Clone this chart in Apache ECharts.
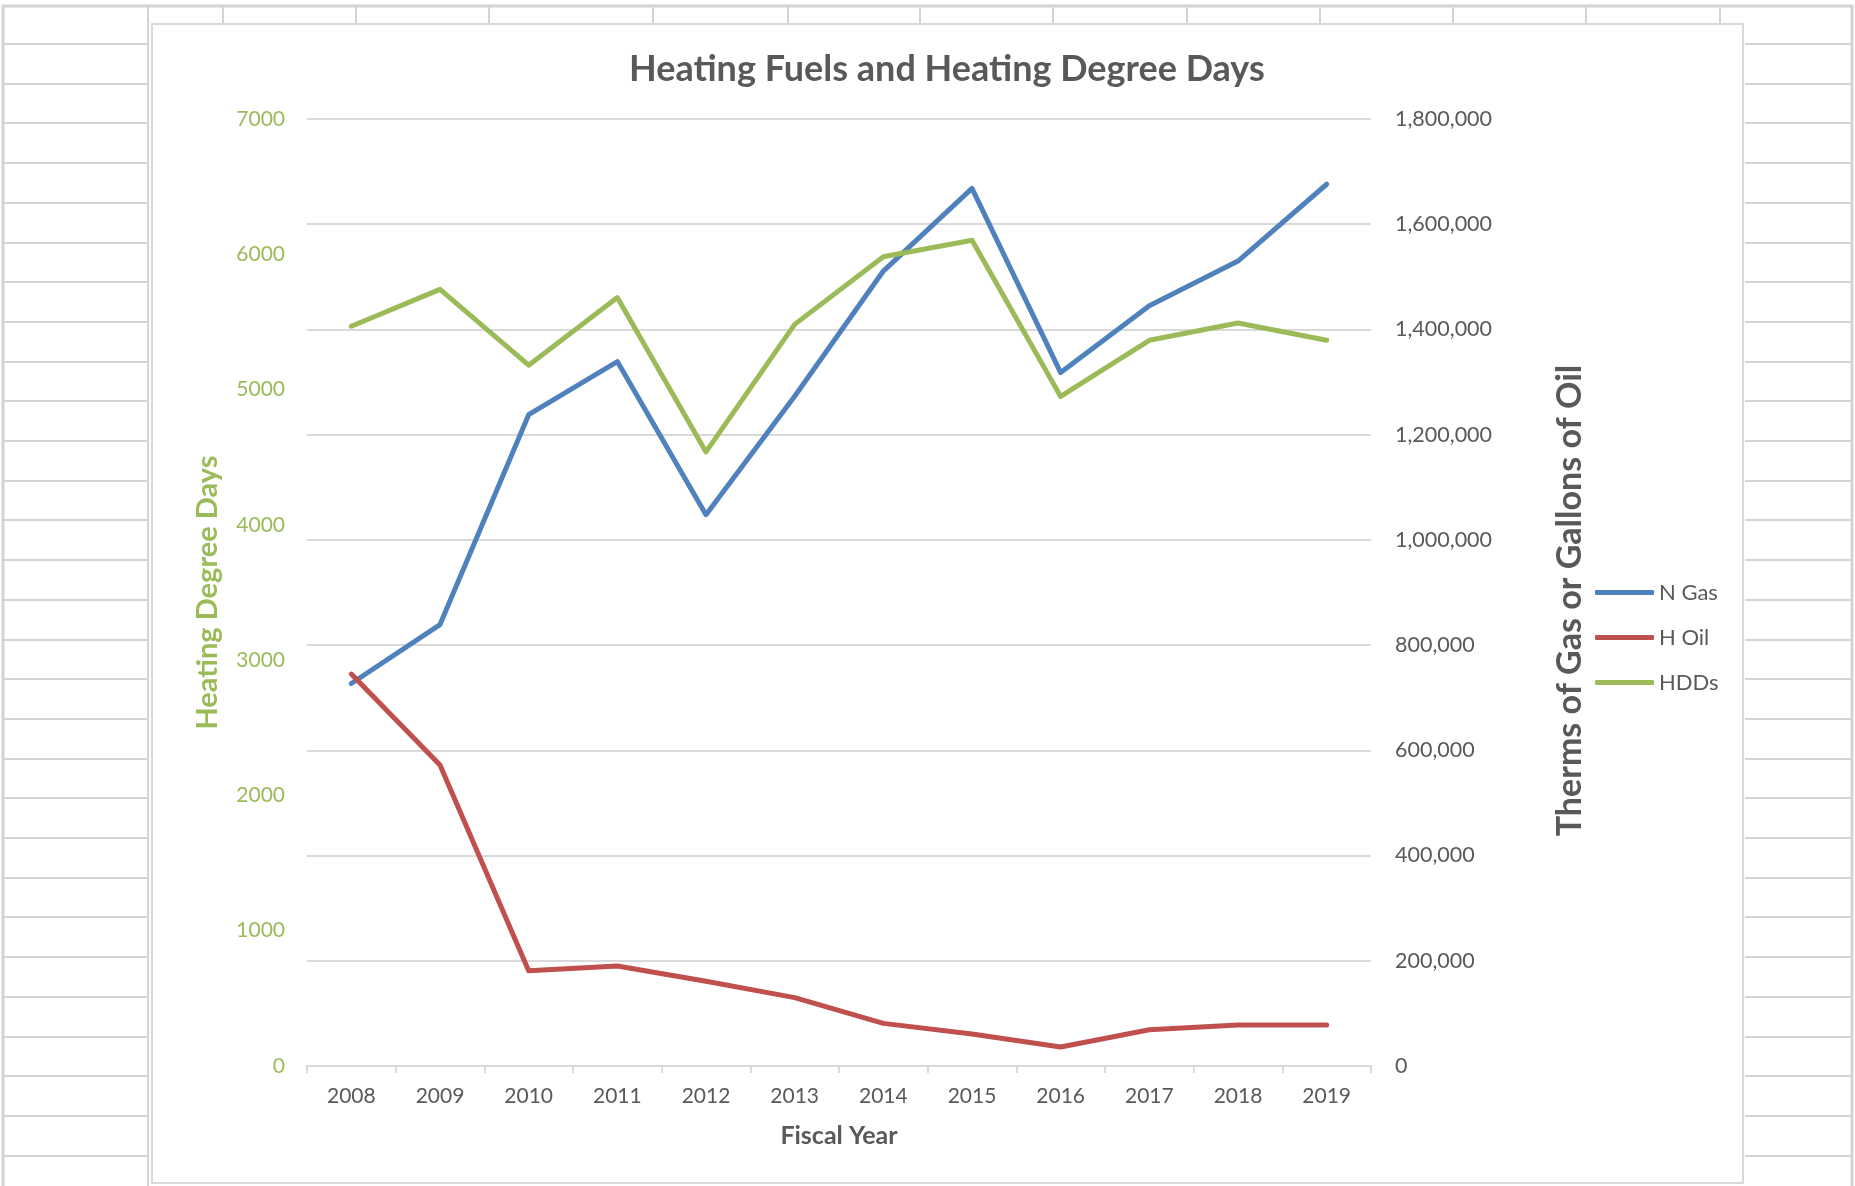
<!DOCTYPE html>
<html>
<head>
<meta charset="utf-8">
<script src="https://cdn.jsdelivr.net/npm/echarts@6/dist/echarts.min.js"></script>
<style>
  html, body { margin: 0; padding: 0; background: #fff; }
  #main { width: 1855px; height: 1186px; }
</style>
</head>
<body>
<div id="main"></div>
<script>
// fiscal years on the x axis
var years = ['2008', '2009', '2010', '2011', '2012', '2013', '2014', '2015', '2016', '2017', '2018', '2019'];
// therms of natural gas (right axis)
var nGas = [727000, 839000, 1238000, 1339000, 1048000, 1273000, 1511000, 1668000, 1318000, 1445000, 1530000, 1676000];
// gallons of heating oil (right axis)
var hOil = [745000, 572000, 181000, 190000, 161000, 130000, 81000, 61000, 36000, 69000, 78000, 78000];
// heating degree days (left axis)
var hdds = [5468, 5741, 5180, 5680, 4539, 5482, 5982, 6104, 4949, 5364, 5492, 5364];
// axis ranges
var leftMax = 7000, leftStep = 1000;
var rightMax = 1800000, rightStep = 200000;

var chart = echarts.init(document.getElementById('main'));
var font = 'Lato';
var gray = '#595959';
var cellLine = '#d4d4d4';

// spreadsheet cells behind the chart
var bg = [];
bg.push({ type: 'rect', shape: { x: 3, y: 6, width: 1849, height: 1190 }, style: { fill: 'none', stroke: cellLine, lineWidth: 3 }, silent: true });
var colX = [223, 356, 489, 653, 788, 920, 1053, 1187, 1320, 1453, 1586, 1720];
colX.forEach(function (x) {
  bg.push({ type: 'line', shape: { x1: x, y1: 6, x2: x, y2: 24 }, style: { stroke: cellLine, lineWidth: 2 }, silent: true });
});
for (var y = 44; y < 1186; y += 39.7) {
  bg.push({ type: 'line', shape: { x1: 3, y1: Math.round(y), x2: 148, y2: Math.round(y) }, style: { stroke: cellLine, lineWidth: 2 }, silent: true });
  bg.push({ type: 'line', shape: { x1: 1745, y1: Math.round(y), x2: 1852, y2: Math.round(y) }, style: { stroke: cellLine, lineWidth: 2 }, silent: true });
}
bg.push({ type: 'line', shape: { x1: 148, y1: 6, x2: 148, y2: 1186 }, style: { stroke: cellLine, lineWidth: 2 }, silent: true });
bg.push({ type: 'rect', shape: { x: 152, y: 24, width: 1591, height: 1159 }, style: { fill: 'none', stroke: '#d9d9d9', lineWidth: 2 }, silent: true });

function commas(v) {
  return String(v).replace(/\B(?=(\d{3})+(?!\d))/g, ',');
}

var option = {
  backgroundColor: '#fff',
  animation: false,
  graphic: bg,
  title: {
    text: 'Heating Fuels and Heating Degree Days',
    left: 629,
    top: 51,
    padding: 0,
    textStyle: { fontFamily: font, fontSize: 36, fontWeight: 'bold', color: gray }
  },
  legend: {
    orient: 'vertical',
    left: 1595,
    top: 580,
    padding: 0,
    itemWidth: 59,
    itemHeight: 5,
    itemGap: 20,
    icon: 'roundRect',
    textStyle: { fontFamily: font, fontSize: 22, color: gray, lineHeight: 25 },
    data: ['N Gas', 'H Oil', 'HDDs']
  },
  grid: { left: 307, right: 484, top: 119, bottom: 120 },
  xAxis: {
    type: 'category',
    data: years,
    boundaryGap: true,
    name: 'Fiscal Year',
    nameLocation: 'middle',
    nameGap: 57,
    nameTextStyle: { fontFamily: font, fontSize: 25, fontWeight: 'bold', color: gray },
    axisLine: { lineStyle: { color: '#d9d9d9', width: 2 } },
    axisTick: { show: true, length: 7, lineStyle: { color: '#d9d9d9', width: 2 } },
    axisLabel: { fontFamily: font, fontSize: 21, color: gray, margin: 20 }
  },
  yAxis: [
    {
      type: 'value',
      position: 'left',
      min: 0,
      max: leftMax,
      interval: leftStep,
      name: 'Heating Degree Days',
      nameLocation: 'middle',
      nameRotate: 90,
      nameGap: 85,
      nameTextStyle: { fontFamily: font, fontSize: 29, fontWeight: 'bold', color: '#9bbb59' },
      axisLine: { show: false },
      axisTick: { show: false },
      splitLine: { show: false },
      axisLabel: {
        fontFamily: font, fontSize: 21, color: '#9bbb59', margin: 22,
        formatter: function (v) { return String(v); }
      }
    },
    {
      type: 'value',
      position: 'right',
      min: 0,
      max: rightMax,
      interval: rightStep,
      name: 'Therms of Gas or Gallons of Oil',
      nameLocation: 'middle',
      nameRotate: 90,
      nameGap: 182,
      nameTextStyle: { fontFamily: font, fontSize: 34, fontWeight: 'bold', color: gray, padding: [0, 16, 0, 0] },
      axisLine: { show: false },
      axisTick: { show: false },
      splitLine: { show: true, lineStyle: { color: '#d9d9d9', width: 2 } },
      axisLabel: { fontFamily: font, fontSize: 21.5, color: gray, margin: 24, formatter: commas }
    }
  ],
  series: [
    {
      name: 'N Gas',
      type: 'line',
      yAxisIndex: 1,
      data: nGas,
      symbol: 'none',
      color: '#4f81bd',
      lineStyle: { width: 5, cap: 'round', join: 'round' }
    },
    {
      name: 'H Oil',
      type: 'line',
      yAxisIndex: 1,
      data: hOil,
      symbol: 'none',
      color: '#c0504d',
      lineStyle: { width: 5, cap: 'round', join: 'round' }
    },
    {
      name: 'HDDs',
      type: 'line',
      yAxisIndex: 0,
      data: hdds,
      symbol: 'none',
      color: '#9bbb59',
      lineStyle: { width: 5, cap: 'round', join: 'round' }
    }
  ]
};
chart.setOption(option);
</script>
</body>
</html>
